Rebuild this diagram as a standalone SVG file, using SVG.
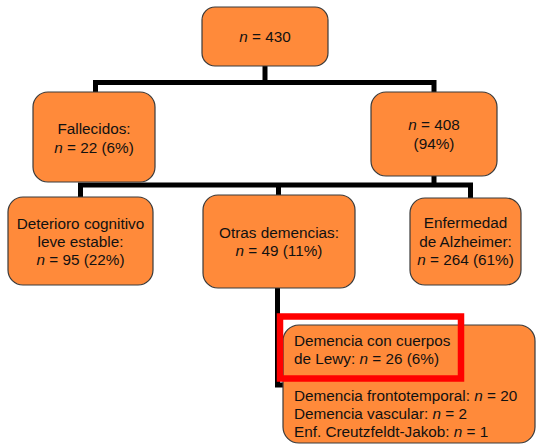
<svg xmlns="http://www.w3.org/2000/svg" width="536" height="445" viewBox="0 0 536 445">
<style>
.box{fill:#FF8A3A;stroke:#3a3a3a;stroke-width:1.2}
.t{font-family:"Liberation Sans",Arial,sans-serif;font-size:15.3px;fill:#111}
.c{text-anchor:middle}
.i{font-style:italic}
.ln{fill:none;stroke:#000;stroke-width:5;stroke-linejoin:miter;stroke-linecap:butt}
</style>
<rect width="536" height="445" fill="#fff"/>
<g id="connectors">
<polyline class="ln" points="265,66 265,82.5"/>
<polyline class="ln" points="95.5,92 95.5,82.5 434,82.5 434,92"/>
<polyline class="ln" points="434,176 434,185"/>
<polyline class="ln" points="80.5,197 80.5,185 470.5,185 470.5,198"/>
<polyline class="ln" points="278.5,185 278.5,195"/>
<polyline class="ln" points="277.5,288 277.5,385 284,385"/>
</g>
<g id="n430">
<rect class="box" x="202" y="7" width="126" height="59" rx="13"/>
<text class="t c" x="265" y="42"><tspan class="i">n</tspan> = 430</text>
</g>
<g id="fallecidos">
<rect class="box" x="33" y="92" width="122" height="90" rx="15"/>
<text class="t c" x="94" y="134">Fallecidos:</text>
<text class="t c" x="94" y="153"><tspan class="i">n</tspan> = 22 (6%)</text>
</g>
<g id="n408">
<rect class="box" x="371" y="92" width="126" height="84" rx="15"/>
<text class="t c" x="434" y="130"><tspan class="i">n</tspan> = 408</text>
<text class="t c" x="434" y="149">(94%)</text>
</g>
<g id="deterioro">
<rect class="box" x="8" y="197" width="145" height="88" rx="15"/>
<text class="t c" x="80.5" y="229">Deterioro cognitivo</text>
<text class="t c" x="80.5" y="247">leve estable:</text>
<text class="t c" x="80.5" y="265"><tspan class="i">n</tspan> = 95 (22%)</text>
</g>
<g id="otras">
<rect class="box" x="203" y="195" width="152" height="93" rx="15"/>
<text class="t c" x="279" y="238">Otras demencias:</text>
<text class="t c" x="279" y="256"><tspan class="i">n</tspan> = 49 (11%)</text>
</g>
<g id="alzheimer">
<rect class="box" x="410" y="198" width="111" height="87" rx="15"/>
<text class="t c" x="465.5" y="228">Enfermedad</text>
<text class="t c" x="465.5" y="247">de Alzheimer:</text>
<text class="t c" x="465.5" y="265"><tspan class="i">n</tspan> = 264 (61%)</text>
</g>
<g id="detalle">
<rect class="box" x="283" y="325" width="252" height="118" rx="16"/>
<text class="t" x="294" y="346">Demencia con cuerpos</text>
<text class="t" x="294" y="364">de Lewy: <tspan class="i">n</tspan> = 26 (6%)</text>
<text class="t" x="294" y="401">Demencia frontotemporal: <tspan class="i">n</tspan> = 20</text>
<text class="t" x="294" y="419">Demencia vascular: <tspan class="i">n</tspan> = 2</text>
<text class="t" x="294" y="437">Enf. Creutzfeldt-Jakob: <tspan class="i">n</tspan> = 1</text>
</g>
<g id="highlight">
<rect x="280" y="316.5" width="181" height="62" fill="none" stroke="#FF0000" stroke-width="6.5"/>
</g>
</svg>
